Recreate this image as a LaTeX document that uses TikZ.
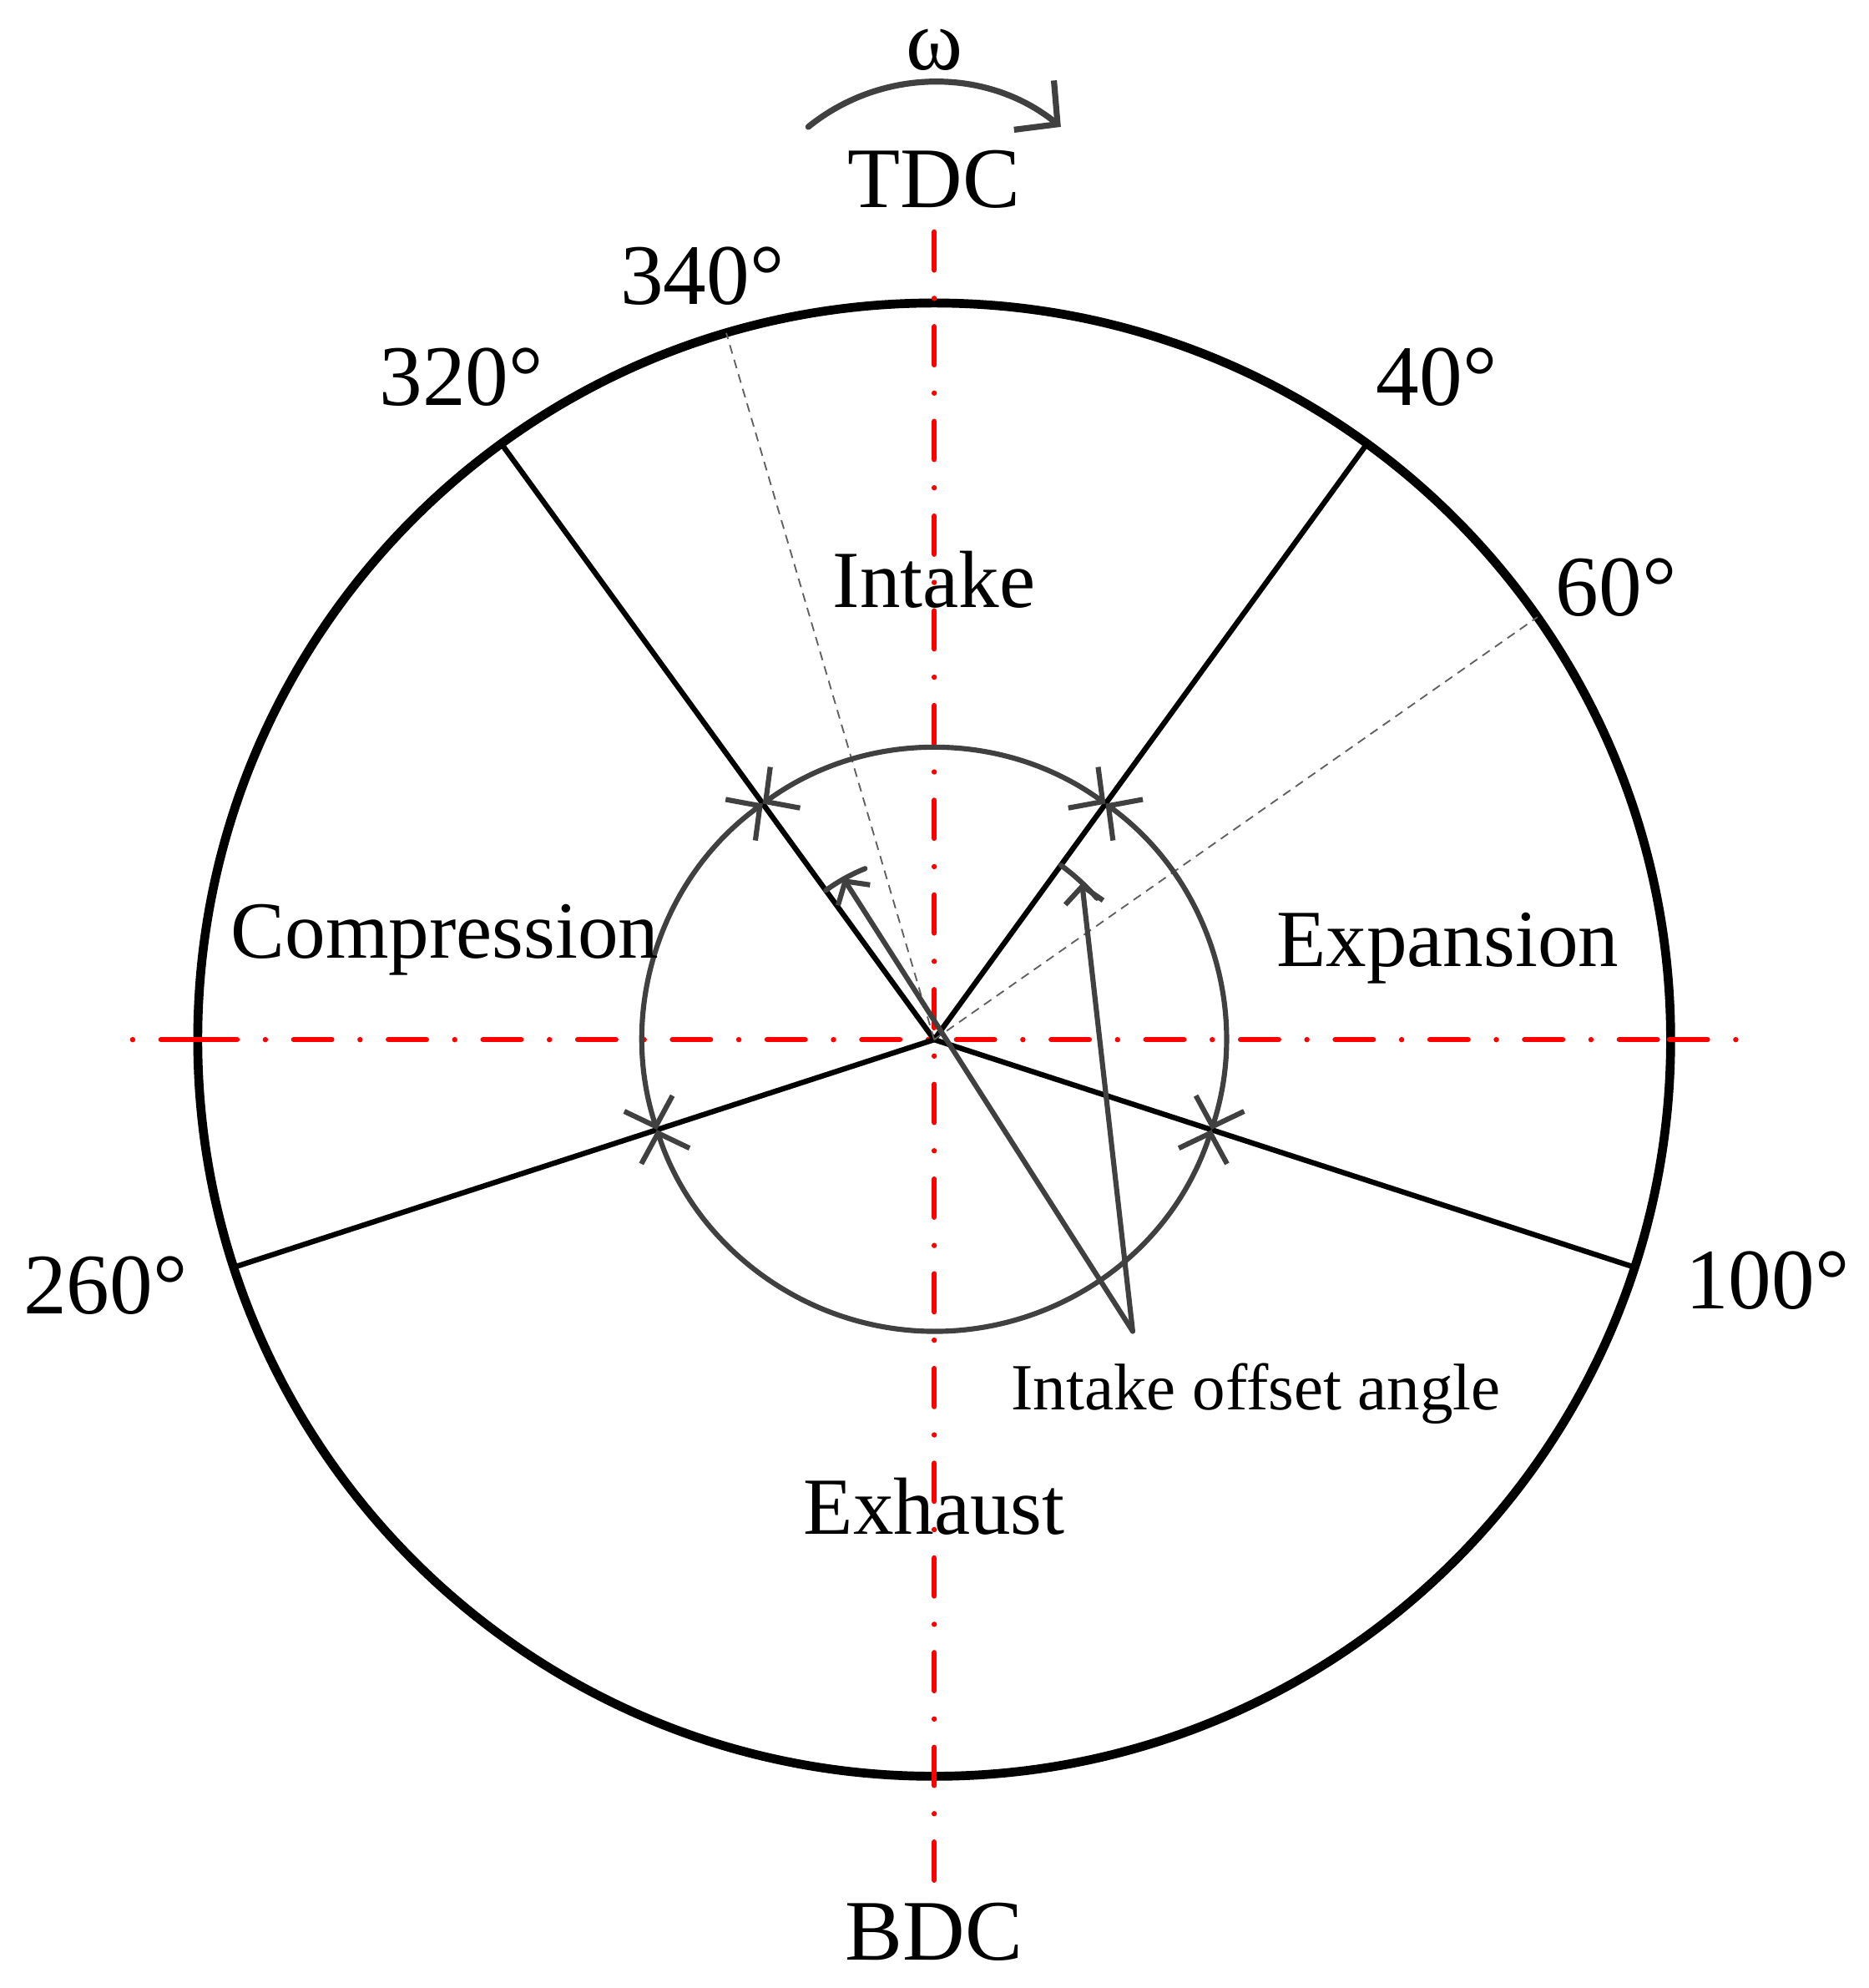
\documentclass[tikz,border=0pt]{standalone}
\usepackage{fontspec}
\setmainfont{Liberation Serif}
\usetikzlibrary{arrows.meta}
\definecolor{linegray}{HTML}{404040}

\begin{document}
\begin{tikzpicture}

        \useasboundingbox (-7.37,-7.48) rectangle (7.37,8.20);

        \coordinate (o)    at (0,0);
        \coordinate (a320) at (126:5.81);
        \coordinate (a340) at (106.4:5.81);
        \coordinate (a40)  at (54:5.81);
        \coordinate (a60)  at (35:5.81);
        \coordinate (a100) at (-18:5.81);
        \coordinate (a260) at (198:5.81);
        \coordinate (top)  at (0,6.37);
        \coordinate (bot)  at (0,-6.64);
        \coordinate (lft)  at (-6.35,0);
        \coordinate (rgt)  at (6.36,0);
        \coordinate (le)   at (-5.80,0);
        \coordinate (re)   at (5.80,0);
        \coordinate (offs) at (1.566,-2.30);
        \coordinate (tip1) at (119.4:1.46);
        \coordinate (tip2) at (46.7:1.70);
        \coordinate (wc)   at (0.003,5.969);

        \draw[line width=2pt] (o) circle[radius=5.81];

        \begin{scope}[red, line width=1.2pt, line cap=round,
            dash pattern=on 0.30cm off 0.2235cm on 0cm off 0.2235cm]
          \draw (top) -- (bot);
          \draw (le) -- (lft);
          \draw (le) -- (re);
          \draw (re) -- (rgt);
        \end{scope}

        \begin{scope}[every edge/.style={draw, line width=1.2pt}]
          \path (o) edge (a320);
          \path (o) edge (a40);
          \path (o) edge (a100);
          \path (o) edge (a260);
        \end{scope}

        \begin{scope}[gray!75!black, line width=0.35pt, dash pattern=on 0.07cm off 0.05cm]
          \draw (o) -- (a340);
          \draw (o) -- (a60);
        \end{scope}

        \begin{scope}[linegray, line width=1.15pt, line cap=round]
          \begin{scope}[>={Straight Barb[length=0.19cm,width=0.40cm]}]
            \foreach \a/\b in {126/54, 54/-18, -18/-162, -162/-234}
              \draw[<->] (\a:2.3) arc[start angle=\a, end angle=\b, radius=2.3];
          \end{scope}
          \draw (126:1.455) arc[start angle=126, end angle=112, radius=1.455];
          \draw (54:1.70) arc[start angle=54, end angle=41, radius=1.70];
          \begin{scope}[>={Straight Barb[length=0.13cm,width=0.30cm]}]
            \draw[->] (offs) -- (tip1);
            \draw[->] (offs) -- (tip2);
          \end{scope}
          \draw[line width=1.35pt, -{Straight Barb[length=0.24cm,width=0.50cm]}]
            ([shift={(129:1.583)}]wc) arc[start angle=129, end angle=51, radius=1.583];
        \end{scope}

        \begin{scope}[every node/.style={anchor=base, inner sep=0pt, font=\fontsize{19.35}{23}\selectfont}]
          \node (omega) at (0,7.651)     {ω};
          \node (tdc)   at (0,6.564)     {TDC};
          \node (bdc)   at (0,-7.26)     {BDC};
          \node (d340)  at (-1.83,5.80)  {340°};
          \node (d320)  at (-3.73,5.00)  {320°};
          \node (d40)   at (3.965,5.00)  {40°};
          \node (d60)   at (5.38,3.34)   {60°};
          \node (d260)  at (-6.538,-2.16) {260°};
          \node (d100)  at (6.574,-2.12) {100°};
        \end{scope}

        \begin{scope}[every node/.style={anchor=base, inner sep=0pt, font=\fontsize{18.2}{22}\selectfont}]
          \node (intake)  at (0,3.41)     {Intake};
          \node (comp)    at (-3.86,0.64) {Compression};
          \node (expan)   at (4.05,0.58)  {Expansion};
          \node (exhaust) at (0,-3.90)    {Exhaust};
        \end{scope}

        \node[anchor=base, inner sep=0pt, font=\fontsize{14.8}{18}\selectfont] (offlabel) at (2.54,-2.92) {Intake offset angle};

      \end{tikzpicture}
\end{document}
